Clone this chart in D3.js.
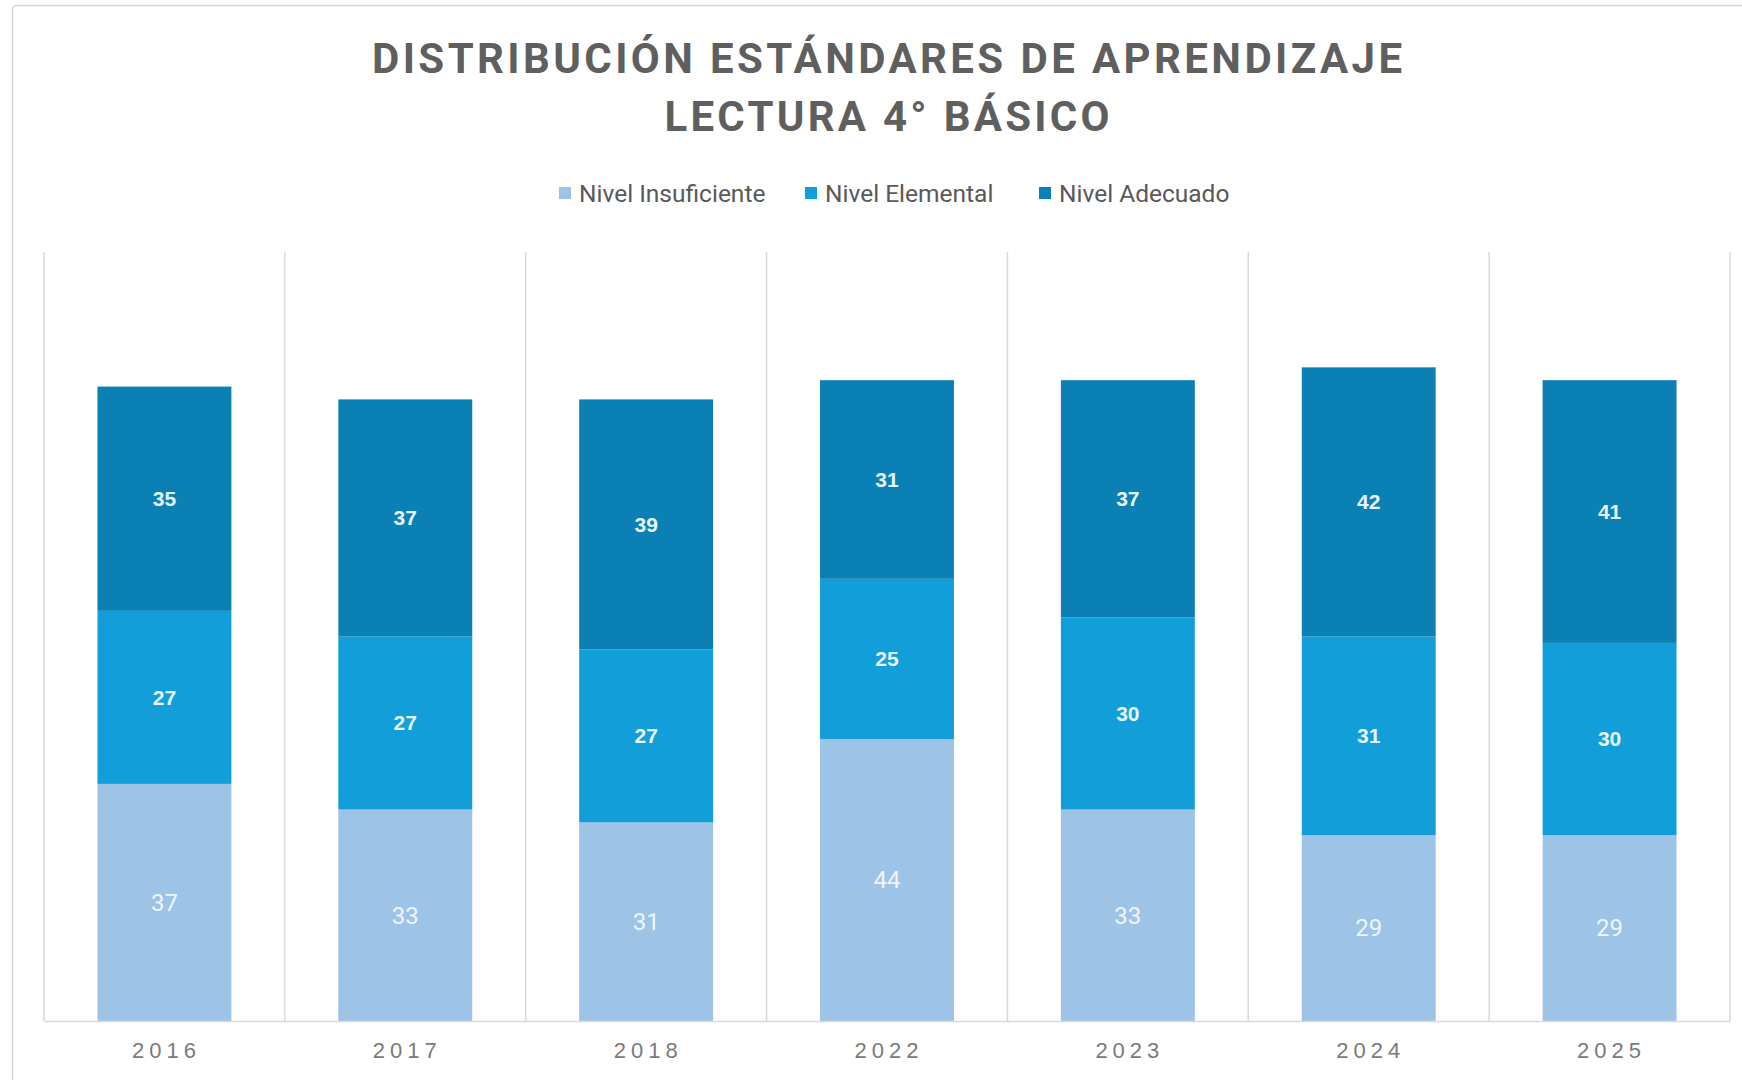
<!DOCTYPE html>
<html>
<head>
<meta charset="utf-8">
<script src="https://cdn.jsdelivr.net/npm/d3@7"></script>
<style>
  body { margin: 0; background: #fff; }
  svg { display: block; }
</style>
</head>
<body>
<div id="chart"></div>
<script>
// Data
const years = ["2016", "2017", "2018", "2022", "2023", "2024", "2025"];
const insuficiente = [37, 33, 31, 44, 33, 29, 29];
const elemental = [27, 27, 27, 25, 30, 31, 30];
const adecuado = [35, 37, 39, 31, 37, 42, 41];
const seriesNames = ["Nivel Insuficiente", "Nivel Elemental", "Nivel Adecuado"];
const seriesColors = ["#9dc3e6", "#129ed8", "#0b80b4"];
const titleLines = ["DISTRIBUCIÓN ESTÁNDARES DE APRENDIZAJE", "LECTURA 4° BÁSICO"];

const W = 1742, H = 1080;
const margin = {top: 252, right: 12, bottom: 59, left: 44};

const svg = d3.select("#chart")
  .append("svg")
    .attr("width", W)
    .attr("height", H);

// outer frame of the chart box
svg.append("rect")
  .attr("x", 12.5).attr("y", 5.5)
  .attr("width", W + 20).attr("height", H + 20)
  .attr("rx", 4)
  .attr("fill", "#fff")
  .attr("stroke", "#d6d6d6")
  .attr("stroke-width", 1.5);

// Title
svg.selectAll(".title")
  .data(titleLines)
  .join("text")
    .attr("class", "title")
    .attr("x", 887)
    .attr("y", (d, i) => 73 + i * 58)
    .attr("text-anchor", "middle")
    .attr("textLength", (d, i) => i === 0 ? 1030 : 445)
    .attr("lengthAdjust", "spacing")
    .attr("fill", "#5f5f5f")
    .style("font-family", "Roboto, 'Liberation Sans', sans-serif")
    .style("font-weight", "bold")
    .style("font-size", "42px")
    .text(d => d);

// Legend
const legendX = [559, 805, 1039];
const legend = svg.selectAll(".legend")
  .data(seriesNames)
  .join("g")
    .attr("class", "legend")
    .attr("transform", (d, i) => `translate(${legendX[i]},193)`);
legend.append("rect")
  .attr("x", 0).attr("y", -6)
  .attr("width", 12).attr("height", 12)
  .attr("fill", (d, i) => seriesColors[i]);
legend.append("text")
  .attr("x", 20)
  .attr("dy", "0.35em")
  .attr("fill", "#595959")
  .style("font-family", "'Liberation Sans Narrow', 'Roboto', sans-serif")
  .style("font-size", "24.5px")
  .text(d => d);

// Scales
const x = d3.scaleBand()
  .domain(years)
  .range([margin.left, W - margin.right])
  .padding(0);
const y = d3.scaleLinear()
  .domain([0, 120])
  .range([H - margin.bottom, margin.top]);
const barW = x.bandwidth() * 0.556;

// Vertical gridlines at category boundaries
const bounds = years.map(d => x(d)).concat([x.range()[1]]);
svg.append("g")
  .selectAll("line")
  .data(bounds)
  .join("line")
    .attr("x1", d => d).attr("x2", d => d)
    .attr("y1", y(120)).attr("y2", y(0))
    .attr("stroke", "#d9d9d9")
    .attr("stroke-width", 1.5);

// Stack
const table = years.map((yr, i) => ({
  year: yr,
  "Nivel Insuficiente": insuficiente[i],
  "Nivel Elemental": elemental[i],
  "Nivel Adecuado": adecuado[i]
}));
const stacked = d3.stack().keys(seriesNames)(table);

const layers = svg.append("g")
  .selectAll("g")
  .data(stacked)
  .join("g")
    .attr("fill", (d, i) => seriesColors[i]);
layers.selectAll("rect")
  .data(d => d)
  .join("rect")
    .attr("x", d => x(d.data.year) + (x.bandwidth() - barW) / 2)
    .attr("y", d => y(d[1]))
    .attr("width", barW)
    .attr("height", d => y(d[0]) - y(d[1]));

// Value labels
stacked.forEach((layer, li) => {
  svg.append("g")
    .selectAll("text")
    .data(layer)
    .join("text")
      .attr("x", d => x(d.data.year) + x.bandwidth() / 2)
      .attr("y", d => y((d[0] + d[1]) / 2))
      .attr("dy", "0.35em")
      .attr("text-anchor", "middle")
      .attr("fill", li === 0 ? "#eef5fb" : "#e6f6ff")
      .style("font-family", li === 0 ? "'Liberation Sans Narrow', Roboto, sans-serif" : "'Liberation Sans', Arial, sans-serif")
      .style("font-weight", li === 0 ? "normal" : "bold")
      .style("font-size", li === 0 ? "24px" : "21px")
      .text(d => d[1] - d[0]);
});

// X axis
const xAxis = svg.append("g")
  .attr("transform", `translate(0,${y(0)})`)
  .call(d3.axisBottom(x).tickSize(0).tickPadding(21));
xAxis.select(".domain")
  .attr("stroke", "#d9d9d9")
  .attr("stroke-width", 1.5);
xAxis.selectAll("text")
  .attr("fill", "#7a7a7a")
  .attr("dx", "2px")
  .style("font-family", "'Liberation Sans', Arial, sans-serif")
  .style("font-size", "22px")
  .style("letter-spacing", "5px");
</script>
</body>
</html>
